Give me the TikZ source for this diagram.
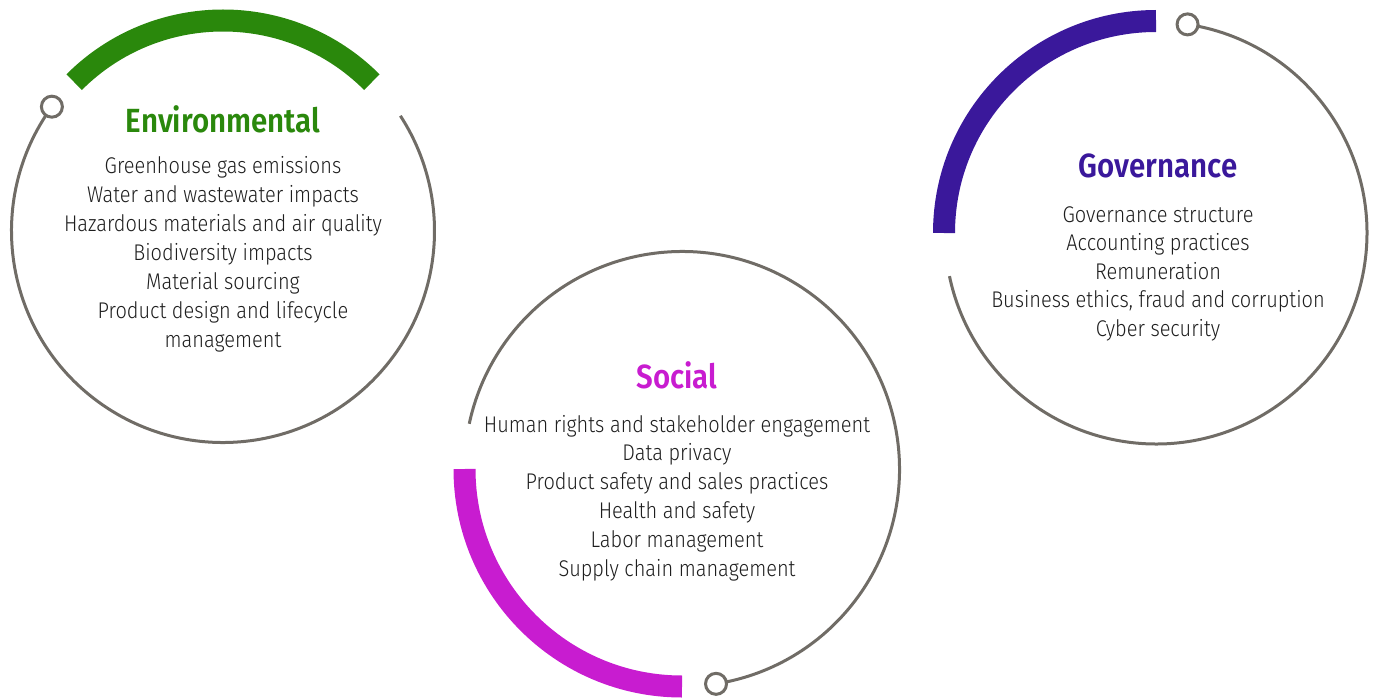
\documentclass[tikz,border=0pt]{standalone}
\usepackage{fontspec}
\setmainfont{Fira Sans}[UprightFont=* Light, BoldFont=* SemiBold, FakeStretch=0.88]
\usetikzlibrary{calc}
\definecolor{envgreen}{RGB}{42,136,12}
\definecolor{socmag}{RGB}{200,28,208}
\definecolor{govpurple}{RGB}{58,24,155}
\definecolor{ringgray}{RGB}{112,108,102}
\definecolor{txt}{RGB}{30,30,30}
\begin{document}
\begin{tikzpicture}[x=1pt,y=1pt,
  track/.style={draw=ringgray, line width=3pt},
  band/.style={line width=22pt, line cap=butt},
  knob/.style={circle, draw=ringgray, line width=3pt, fill=white, minimum size=21pt, inner sep=0pt},
  ttl/.style={font=\fontsize{33.5}{33.5}\selectfont\bfseries, anchor=base, inner sep=0pt},
  item/.style={font=\fontsize{22.7}{22.7}\selectfont, text=txt, anchor=base, inner sep=0pt}]
\path[use as bounding box] (0,0) rectangle (1376,-698);

% Environmental
\coordinate (E) at (223,-231);
\draw[track] ($(E)+(144:211.5pt)$) arc[start angle=144, end angle=393, radius=211.5pt];
\draw[band, envgreen] ($(E)+(45:210.5pt)$) arc[start angle=45, end angle=135, radius=210.5pt];
\node[knob] (Eknob) at ($(E)+(144:211.5pt)$) {};
\node[ttl, text=envgreen] (Etitle) at (223,-132) {Environmental};
\foreach \t [count=\i] in {Greenhouse gas emissions, Water and wastewater impacts, Hazardous materials and air quality, Biodiversity impacts, Material sourcing, Product design and lifecycle, management}
  \node[item] (Eitem\i) at (223,{-174-28.9*(\i-1)}) {\t};

% Social
\coordinate (S) at (682,-469);
\draw[track] ($(S)+(-81:217.5pt)$) arc[start angle=-81, end angle=168, radius=217.5pt];
\draw[band, socmag] ($(S)+(180:217.5pt)$) arc[start angle=180, end angle=270, radius=217.5pt];
\node[knob] (Sknob) at ($(S)+(-81:217.5pt)$) {};
\node[ttl, text=socmag] (Stitle) at (677,-388) {Social};
\foreach \t [count=\i] in {Human rights and stakeholder engagement, Data privacy, Product safety and sales practices, Health and safety, Labor management, Supply chain management}
  \node[item] (Sitem\i) at (677,{-432-28.8*(\i-1)}) {\t};

% Governance
\coordinate (G) at (1156,-233);
\draw[track] ($(G)+(81.4:211pt)$) arc[start angle=81.4, end angle=-168.2, radius=211pt];
\draw[band, govpurple] ($(G)+(90:212pt)$) arc[start angle=90, end angle=180, radius=212pt];
\node[knob] (Gknob) at ($(G)+(81.4:211pt)$) {};
\node[ttl, text=govpurple] (Gtitle) at (1158,-178) {Governance};
\foreach \t [count=\i] in {Governance structure, Accounting practices, Remuneration, {Business ethics, fraud and corruption}, Cyber security}
  \node[item] (Gitem\i) at (1158,{-222-28.6*(\i-1)}) {\t};
\end{tikzpicture}
\end{document}
